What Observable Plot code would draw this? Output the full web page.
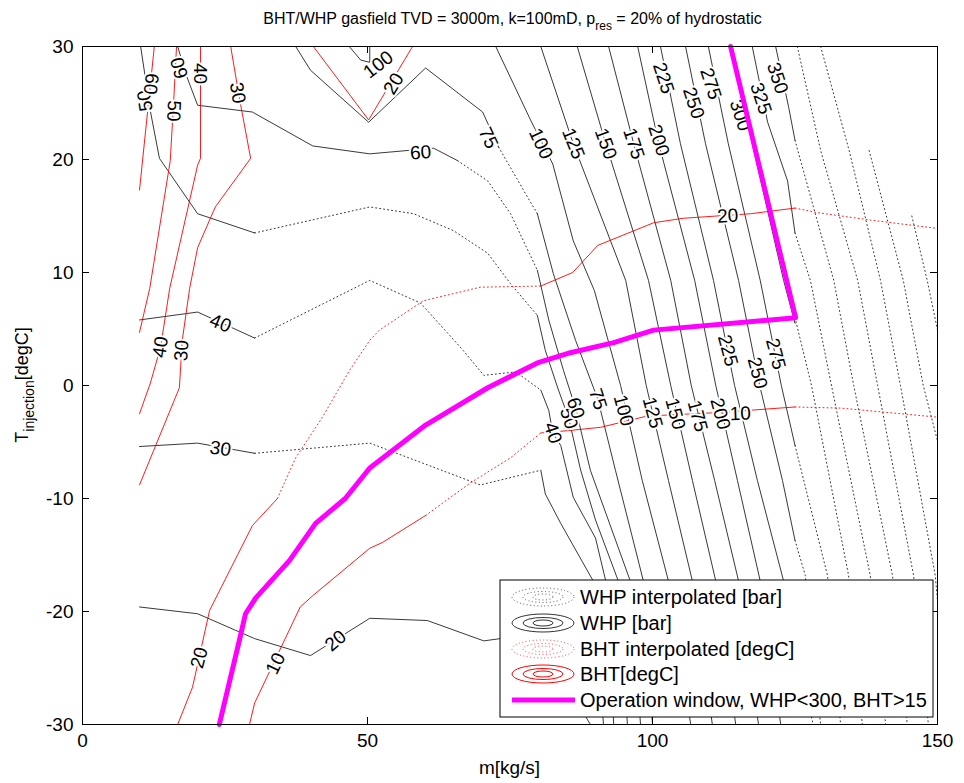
<!DOCTYPE html>
<html><head><meta charset="utf-8">
<script src="https://cdn.jsdelivr.net/npm/d3@7"></script>
<script src="https://cdn.jsdelivr.net/npm/@observablehq/plot@0.6"></script>
<style>body{margin:0;background:#fff}</style>
</head><body><div id="chart"></div>
<script>
// ---------- axis ticks ----------
const xTicks = [0, 50, 100, 150];
const yTicks = [-30, -20, -10, 0, 10, 20, 30];

// ---------- WHP contours from data (solid) [m kg/s, T degC] ----------
const whp20 = [[10,-19.6],[20.2,-20.2],[30.2,-22.4],[40.0,-23.9],[50.4,-20.6],[60.5,-20.8],[70.4,-22.6],[73.3,-22.4],[80.4,-22.6],[89.1,-30]];
const whp30a = [[10,-5.4],[20.2,-5.1],[30.2,-6.0]];
const whp30b = [[80.4,-7.5],[81.2,-9.6],[83.9,-12.2],[89.6,-17.3],[91.4,-30]];
const whp40a = [[10,5.8],[20.2,6.5],[30.2,4.2]];
const whp40b = [[80.4,-0.4],[81.8,-2.2],[82.5,-4.2],[83.9,-5.3],[86.1,-9.9],[90.0,-13.5],[91.8,-17.3],[93.2,-30]];
const whp50a = [[10.2,30],[11.9,24.3],[13.5,20.1],[20.2,15.2],[30.2,13.5]];
const whp50b = [[79.8,6.2],[81.2,3.1],[83.5,-0.4],[85.3,-2.9],[87.4,-7.5],[90.0,-11.9],[94.0,-17.3],[95.6,-30]];
const whp60a = [[16.7,30],[18.1,27.6],[20.2,24.8],[29.8,24.2],[40.4,21.2],[50.4,20.5],[61.6,21.0],[65.8,19.9]];
const whp60b = [[79.8,10.2],[81.8,5.8],[84.4,1.3],[86.5,-2.0],[89.1,-7.5],[96.1,-17.3],[97.9,-30]];
const whp75a = [[37.4,30],[40.0,27.9],[50.2,23.3],[60.2,28.1],[70.2,24.2],[73.0,21.1]];
const whp75b = [[79.8,15.2],[82.6,9.9],[86.5,4.0],[90.4,-1.2],[93.5,-7.5],[98.4,-17.3],[100.0,-30]];
const whp100a = [[46.8,30],[48.8,28.8],[50.4,28.6],[50.4,30]];
const whp100 = [[72.5,30],[78.6,23.5],[82.5,19.6],[86.1,12.8],[89.8,8.4],[94.4,0],[98.2,-8.4],[102.8,-17.3],[106.7,-30]];
const whp125 = [[80.4,30],[86.1,21.4],[95.3,9.3],[98.9,0],[102.8,-8.4],[107.0,-17.3],[110.5,-30]];
const whp150 = [[86.8,30],[91.8,21.4],[99.3,9.3],[103.2,0],[107.0,-8.4],[111.1,-17.3],[114.6,-30]];
const whp175 = [[92.3,30],[96.7,21.4],[103.2,9.3],[106.8,0],[110.9,-8.4],[115.1,-17.3],[118.6,-30]];
const whp200 = [[97.4,30],[101.1,21.4],[107.4,9.3],[111.1,0],[114.9,-8.4],[118.9,-17.3],[122.5,-30]];
const whp225 = [[101.4,30],[104.9,21.4],[110.7,9.3],[114.4,0],[118.4,-8.4],[123.0,-17.3],[125,-23.5]];
const whp250 = [[105.8,30],[109.3,21.4],[115.1,9.3],[118.8,0],[122.8,-8.4],[125,-13.7]];
const whp275 = [[109.8,30],[113.3,21.4],[118.9,9.3],[122.6,0],[125,-5.3]];
const whp300 = [[113.7,30],[117.5,21.4],[123.0,9.3],[125,5.5]];
const whp325 = [[117.5,30],[120.2,23.3],[123.7,18.1],[125,13.5]];
const whp350 = [[121.6,30],[122.8,27.2],[123.9,24.6],[125,21.7]];

// ---------- WHP interpolated (dotted) ----------
const whp40i = [[30.2,4.2],[50.4,9.3],[59.3,7.3],[66.8,3.1],[70.4,0.9],[76.0,1.2],[80.4,-0.4]];
const whp30i = [[30.2,-6.0],[50.4,-5.1],[69.8,-8.8],[80.4,-7.5]];
const whp50i = [[30.2,13.5],[50.4,15.8],[58.1,15.2],[65.1,13.7],[71.1,11.7],[75.1,9.0],[79.8,6.2]];
const whp60i = [[65.8,19.9],[71.1,18.1],[75.1,15.2],[79.8,10.2]];
const whp75i = [[73.0,21.1],[75.4,19.0],[77.7,17.0],[79.8,15.2]];
const whp225i = [[125,-23.5],[128.2,-30]];
const whp250i = [[125,-13.7],[126.8,-16.8],[129.5,-30]];
const whp275i = [[125,-5.3],[130.7,-16.8],[133.0,-30]];
const whp300i = [[125,6.0],[127.9,0],[134.4,-16.8],[136.8,-30]];
const whp325i = [[125,13.5],[127.7,9.3],[131.4,0],[138.2,-16.8],[140.9,-30]];
const whp350i = [[125,21.7],[131.8,9.3],[135.3,0],[142.1,-16.8],[144.7,-30]];
const whp375i = [[125.4,30],[129.5,20.8],[136.0,9.3],[139.5,0],[145.8,-16.8],[148.4,-30]];
const whp400i = [[129.5,30],[134.5,20.8],[140.0,9.3],[143.5,0],[149.6,-16.8],[150,-19]];
const whp425i = [[138.0,20.8],[144.0,9.3],[147.5,0],[150,-4.9]];
const whp450i = [[145.5,15.0],[148.2,9.3],[150,4.9]];

// ---------- BHT contours (solid) ----------
const bht60 = [[12.6,30],[10,17.3]];
const bht50 = [[16.5,30],[16.0,25.2],[15.4,19.9],[11.8,8.6],[10,4.7]];
const bht40 = [[20.7,30],[20.7,20.1],[20.2,19.5],[15.3,8.6],[13.7,3.4],[11.9,0.2],[10,-2.5]];
const bht30 = [[26.0,30],[27.5,25.5],[29.5,20.1],[23.3,15.8],[20.2,12.2],[18.8,8.6],[17.5,4.0],[17.0,-0.2],[10,-8.8]];
const bht20top = [[40.5,30],[50.2,23.5],[57.9,30]];
const bht20a = [[16.7,-30],[19.3,-26.7],[22.3,-19.9],[29.8,-12.4],[34.2,-10.0]];
const bht20b = [[80.4,8.8],[86.0,10.0],[90.4,12.4],[100.2,14.4],[105.4,14.8],[117.2,15.2],[125,15.7]];
const bht10a = [[29.3,-30],[30.2,-28.1],[38.2,-19.6],[40.4,-18.6],[50.4,-14.4],[52.6,-13.9],[60.2,-11.5]];
const bht10b = [[80.4,-4.2],[85.1,-4.0],[90.9,-3.7],[99.1,-2.7],[111.4,-2.4],[125,-1.9]];

// ---------- BHT interpolated (dotted) ----------
const bht20i = [[34.2,-10.0],[37.4,-6.4],[42.1,-2.8],[46.8,1.3],[50.4,4.0],[52.1,4.9],[59.8,7.5],[69.8,8.7],[80.4,8.8]];
const bht20j = [[125,15.7],[128.9,15.3],[138.8,14.6],[150,13.9]];
const bht10i = [[60.2,-11.5],[68.1,-8.6],[75.1,-6.4],[80.4,-4.2]];
const bht10j = [[125,-1.9],[133,-2.0],[150,-2.8]];

// ---------- operation window ----------
const opWindow = [[24.0,-30],[27.5,-22.6],[28.6,-20.2],[30.4,-18.8],[36.3,-15.5],[40.9,-12.2],[46.1,-10.0],[50.4,-7.3],[60.2,-3.5],[71.1,-0.2],[79.8,2.0],[85.6,2.9],[93.2,3.8],[100.2,4.9],[125.1,6.0],[113.7,30]];

// ---------- contour labels [text, m, T, angle] ----------
const whpLabels = [
  ["50",11.0,25.2,-99],["60",17.0,28.1,-106],["100",51.9,28.4,-38],["60",59.3,20.6,-4],["75",71.2,21.9,65],
  ["40",24.2,5.5,22],["30",24.2,-5.6,9],["20",44.4,-22.6,-40],
  ["40",82.5,-4.2,72],["50",85.3,-2.9,72],["60",86.5,-2.0,72],["75",90.4,-1.2,72],
  ["100",94.9,-2.2,75],["125",100.0,-2.4,75],["150",104.0,-2.5,75],["175",107.9,-2.7,75],["200",111.9,-2.5,75],
  ["225",113.2,3.1,75],["250",118.4,1.1,75],["275",121.6,2.8,75],
  ["100",80.4,21.4,65],["125",86.1,21.4,68],["150",91.8,21.4,70],["175",96.7,21.4,72],["200",101.1,21.7,72],
  ["225",101.9,27.2,72],["250",107.2,25.0,72],["275",110.2,26.7,72],["300",115.4,23.9,72],["325",119.0,25.4,72],["350",121.9,27.2,72]
];
const bhtLabels = [
  ["60",12.0,26.7,96],["50",16.0,24.3,92],["40",20.7,27.6,90],["30",27.2,25.9,80],
  ["40",13.7,3.4,-81],["30",17.4,3.1,-86],
  ["20",54.6,26.7,-59],["20",113.2,15.0,-3],["20",20.5,-24.1,-75],
  ["10",115.4,-2.5,-2],["10",33.9,-24.6,-64]
];

const legendItems = ["WHP interpolated [bar]","WHP [bar]","BHT interpolated [degC]","BHT[degC]","Operation window, WHP<300, BHT>15"];

// ---------- assemble ----------
const whpSolid = [whp20,whp30a,whp30b,whp40a,whp40b,whp50a,whp50b,whp60a,whp60b,whp75a,whp75b,whp100a,whp100,whp125,whp150,whp175,whp200,whp225,whp250,whp275,whp300,whp325,whp350];
const whpInterp = [whp40i,whp30i,whp50i,whp60i,whp75i,whp225i,whp250i,whp275i,whp300i,whp325i,whp350i,whp375i,whp400i,whp425i,whp450i];
const bhtSolid = [bht60,bht50,bht40,bht30,bht20top,bht20a,bht20b,bht10a,bht10b];
const bhtInterp = [bht20i,bht20j,bht10i,bht10j];
const flat = (set, p) => set.flatMap((pts, i) => pts.map(([m, T]) => ({m, T, id: p + i})));

const W = 964, H = 783, mL = 82, mR = 27, mT = 46, mB = 59;
const iW = W - mL - mR, iH = H - mT - mB;
const FONT = "Liberation Sans, Arial, Helvetica, sans-serif";
const dotted = "1,3";

const labelOpts = {x: d => d[1], y: d => d[2], text: d => d[0], rotate: d => d[3],
  fontSize: 19, fill: "black", stroke: "white", strokeWidth: 4, paintOrder: "stroke", fontFamily: FONT};

const chart = Plot.plot({
  width: W, height: H,
  marginLeft: mL, marginRight: mR, marginTop: mT, marginBottom: mB,
  x: {domain: [0, 150]},
  y: {domain: [-30, 30]},
  style: {fontFamily: FONT, fontSize: "19px", background: "white", color: "black"},
  marks: [
    Plot.line(flat(whpInterp, "wi"), {x: "m", y: "T", z: "id", stroke: "#333", strokeWidth: 1, strokeDasharray: dotted}),
    Plot.line(flat(bhtInterp, "bi"), {x: "m", y: "T", z: "id", stroke: "#ff2020", strokeWidth: 1, strokeDasharray: dotted}),
    Plot.line(flat(whpSolid, "ws"), {x: "m", y: "T", z: "id", stroke: "#222", strokeWidth: 0.9}),
    Plot.line(flat(bhtSolid, "bs"), {x: "m", y: "T", z: "id", stroke: "#ff0000", strokeWidth: 0.9}),
    Plot.text(whpLabels, labelOpts),
    Plot.text(bhtLabels, labelOpts),
    Plot.line(opWindow, {x: d => d[0], y: d => d[1], stroke: "#ff00ff", strokeWidth: 5, strokeLinejoin: "round"}),
    Plot.frame({stroke: "#000", strokeWidth: 1}),
    Plot.tickX(xTicks, {x: d => d, insetTop: iH - 7, stroke: "#000"}),
    Plot.tickX(xTicks, {x: d => d, insetBottom: iH - 7, stroke: "#000"}),
    Plot.tickY(yTicks, {y: d => d, insetRight: iW - 7, stroke: "#000"}),
    Plot.tickY(yTicks, {y: d => d, insetLeft: iW - 7, stroke: "#000"}),
    Plot.axisX({ticks: xTicks, tickSize: 0, tickPadding: 9, tickFormat: d => String(d), label: null}),
    Plot.axisY({ticks: yTicks, tickSize: 0, tickPadding: 9, tickFormat: d => String(d), label: null})
  ]
});
document.getElementById("chart").appendChild(chart);

// ---------- title, axis labels, legend ----------
const svg = d3.select(chart);
const cx = mL + iW / 2;
const title = svg.append("text").attr("x", cx + 3).attr("y", 24).attr("text-anchor", "middle")
  .style("font-family", FONT).style("font-size", "16px").attr("fill", "black");
title.append("tspan").text("BHT/WHP gasfield TVD = 3000m, k=100mD, p");
title.append("tspan").attr("dy", 6).style("font-size", "12px").text("res");
title.append("tspan").attr("dy", -6).text(" = 20% of hydrostatic");

svg.append("text").attr("x", cx).attr("y", 774).attr("text-anchor", "middle")
  .style("font-family", FONT).style("font-size", "19px").text("m[kg/s]");

const yl = svg.append("text").attr("transform", `translate(28,${mT + iH / 2}) rotate(-90)`).attr("text-anchor", "middle")
  .style("font-family", FONT).style("font-size", "18px");
yl.append("tspan").text("T");
yl.append("tspan").attr("dy", 6).style("font-size", "14px").text("injection");
yl.append("tspan").attr("dy", -6).text("[degC]");

const lg = svg.append("g").attr("transform", "translate(500,580)");
lg.append("rect").attr("width", 433).attr("height", 137).attr("fill", "white").attr("stroke", "black").attr("stroke-width", 1);
const rowY = [17, 43, 69, 94, 120];
const iconStyles = [
  {stroke: "#555", dash: "1,2.5"}, {stroke: "#333", dash: null},
  {stroke: "#ff4040", dash: "1,2.5"}, {stroke: "#ff0000", dash: null}
];
iconStyles.forEach((s, i) => {
  [[31, 9], [20, 5.5], [10, 3]].forEach(([rx, ry]) => {
    const e = lg.append("ellipse").attr("cx", 43).attr("cy", rowY[i]).attr("rx", rx).attr("ry", ry)
      .attr("fill", "none").attr("stroke", s.stroke).attr("stroke-width", 1);
    if (s.dash) e.attr("stroke-dasharray", s.dash);
  });
});
lg.append("line").attr("x1", 12).attr("x2", 75).attr("y1", rowY[4]).attr("y2", rowY[4]).attr("stroke", "#ff00ff").attr("stroke-width", 5);
legendItems.forEach((t, i) => {
  lg.append("text").attr("x", 80).attr("y", rowY[i]).attr("dy", "0.35em").attr("text-anchor", "start")
    .style("font-family", FONT).style("font-size", "20px").text(t);
});
</script>
</body></html>
